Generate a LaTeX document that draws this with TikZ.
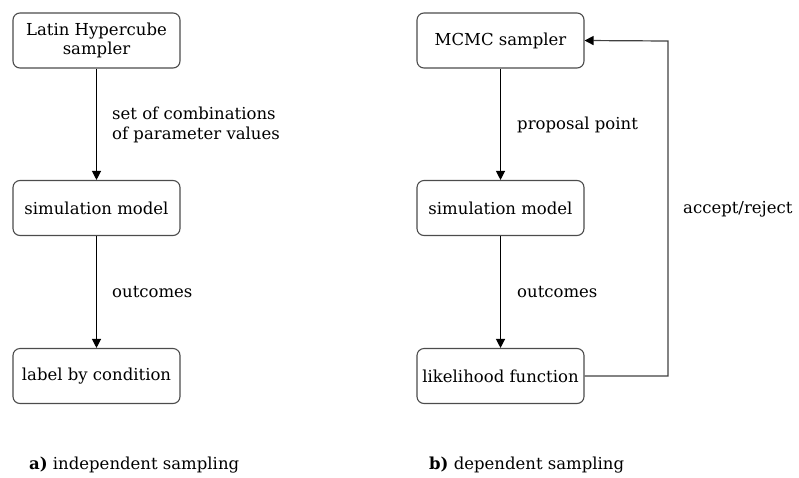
\documentclass[tikz,border=0pt]{standalone}
\usepackage{fontspec}
\setmainfont{DejaVu Serif}
\usetikzlibrary{arrows.meta}
\begin{document}
\begin{tikzpicture}[x=1pt,y=-1pt,
  box/.style={draw=black!70, line width=1.1pt, rounded corners=7pt, minimum width=167pt, minimum height=55pt, inner sep=0pt, align=center, font=\fontsize{16.5}{18.5}\selectfont},
  arr/.style={draw=black, line width=1.2pt, -{Triangle[length=9pt,width=9pt,color=black]}},
  lbl/.style={anchor=west, inner sep=0pt, align=left, font=\fontsize{16.5}{20}\selectfont}]
\useasboundingbox (0,0) rectangle (799,477);
% left
\node[box] (lh) at (96.5,40.5) {Latin Hypercube\\sampler};
\node[box] (sm1) at (96.5,208) {simulation model};
\node[box] (lc) at (96.5,376) {label by condition};
\draw[arr] (lh) -- (sm1);
\draw[arr] (sm1) -- (lc);
\node[lbl] (l1) at (112,125) {set of combinations\\of parameter values};
\node[lbl] (l2) at (112,292) {outcomes};
\node[lbl] (ca) at (29,465) {\textbf{a)} independent sampling};
% right
\node[box] (mc) at (500.5,40.5) {MCMC sampler};
\node[box] (sm2) at (500.5,208) {simulation model};
\node[box] (lf) at (500.5,376) {likelihood function};
\draw[arr] (mc) -- (sm2);
\draw[arr] (sm2) -- (lf);
\coordinate (c1) at (668,376);
\coordinate (c2) at (668,41);
\draw[arr, draw=black!75] (lf.east) -- (c1) -- (c2) -- (mc.east);
\node[lbl] (r1) at (517,125) {proposal point};
\node[lbl] (r2) at (517,292) {outcomes};
\node[lbl] (r3) at (683,209) {accept/reject};
\node[lbl] (cb) at (429,465) {\textbf{b)} dependent sampling};
\end{tikzpicture}
\end{document}
